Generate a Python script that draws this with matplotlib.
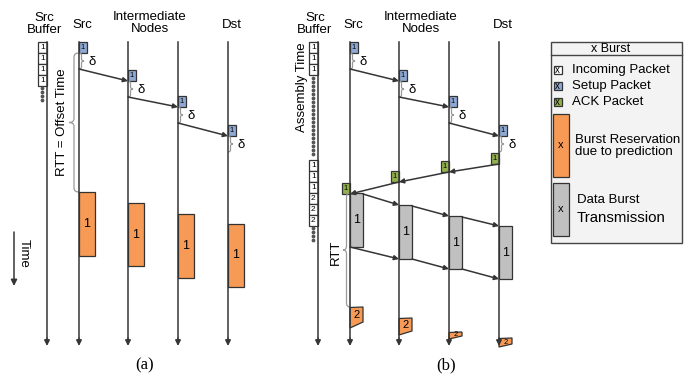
import numpy as np
import matplotlib.pyplot as plt
from matplotlib.path import Path
from matplotlib.patches import PathPatch, Rectangle, Polygon

plt.rcParams['font.family'] = ['Liberation Sans', 'DejaVu Sans']

# --- diagram data (pixel units, y = time going down) ---
node_labels = ['Src', 'Intermediate\nNodes', 'Dst']
node_x = [79, 128, 178, 228]          # node lines, panel (a)
panel_shift = 271                     # panel (b) offset
setup_top = [42, 70, 96, 125]         # setup packet arrival
delta = 16                            # processing delay
pkt_h = 11
burst_a_start = [192, 203, 214, 224]  # predicted reservation, panel (a)
burst_a_end = [256, 266, 278, 287]
ack_top = [183, 171, 161, 153]        # ACK packets, panel (b)
burst_b_start = [193, 205, 216, 226]  # data burst, panel (b)
burst_b_end = [247, 259, 269, 279]
pred2_top = [307, 318, 332, 338]      # next reservation (burst 2)
pred2_left = [21, 17, 7, 9]
pred2_right = [15, 13, 4, 6]
buf_a = ['1', '1', '1', '1']
buf_b_top = ['1', '1', '1']
buf_b_mid = ['1', '1', '1', '2', '2', '2']

C_LINE = '#353535'
C_SETUP = '#8fa9d4'
C_ACK = '#92b04c'
C_ORANGE = '#f79a55'
C_GREY = '#c0c0c0'
C_BRACE = '#9a9a9a'

fig = plt.figure(figsize=(6.95, 3.77), dpi=100)
ax = fig.add_axes([0, 0, 1, 1])
ax.set_xlim(0, 695)
ax.set_ylim(377, 0)
ax.axis('off')


def arrow(x0, y0, x1, y1, lw=1.1, ms=7):
    ax.annotate('', xy=(x1, y1), xytext=(x0, y0),
                arrowprops=dict(arrowstyle='-|>', color=C_LINE, lw=lw,
                                mutation_scale=ms, shrinkA=0, shrinkB=0))


def brace(x, y0, y1, w, r=3):
    ym = (y0 + y1) / 2
    xm = x + w / 2
    verts = [(x, y0), (xm, y0), (xm, y0 + r), (xm, ym - r), (xm, ym), (x + w, ym),
             (xm, ym), (xm, ym + r), (xm, y1 - r), (xm, y1), (x, y1)]
    codes = [Path.MOVETO, Path.CURVE3, Path.CURVE3, Path.LINETO, Path.CURVE3, Path.CURVE3,
             Path.CURVE3, Path.CURVE3, Path.LINETO, Path.CURVE3, Path.CURVE3]
    ax.add_patch(PathPatch(Path(verts, codes), fill=False, ec=C_BRACE, lw=0.9))


def box(x, y, w, h, fc, label='', fs=5.5, ec='#333333'):
    ax.add_patch(Rectangle((x, y), w, h, fc=fc, ec=ec, lw=0.9))
    if label:
        ax.text(x + w / 2, y + h / 2, label, fontsize=fs, ha='center', va='center')


def buffer(x, y0, labels, dots_y):
    for i, lab in enumerate(labels):
        box(x - 9.5, y0 + i * 11, 9.5, 11, 'white', lab, fs=6)
    ax.scatter([x - 5] * len(dots_y), dots_y, s=3, c='#555555', zorder=3)


def panel(off, mode):
    xs = [v + off for v in node_x]
    bx = off + 47
    # headers
    ax.text(bx - 3, 24, 'Src\nBuffer', ha='center', va='center', fontsize=9.5, linespacing=0.95)
    ax.text(xs[0] + 3, 25, node_labels[0], ha='center', va='center', fontsize=9.5)
    ax.text((xs[1] + xs[2]) / 2 - 3, 23, node_labels[1], ha='center', va='center',
            fontsize=9.5, linespacing=0.95)
    ax.text(xs[3] + 4, 25, node_labels[2], ha='center', va='center', fontsize=9.5)
    # time lines
    for x in [bx] + xs:
        ax.plot([x, x], [42, 338], color=C_LINE, lw=1.1)
        arrow(x, 338, x, 346, ms=8)
    # setup packets + delta
    for i, x in enumerate(xs):
        box(x, setup_top[i], 8, pkt_h, C_SETUP, '1')
        b = setup_top[i] + pkt_h
        brace(x, b, b + delta, 5, r=2)
        ax.text(x + 13, b + delta / 2 + 1, 'δ', fontsize=9.5, ha='center', va='center')
        if i < 3:
            arrow(x, b + delta, xs[i + 1], setup_top[i + 1] + pkt_h)
    if mode == 'a':
        buffer(bx, 42, buf_a, np.arange(88, 101, 4))
        for i, x in enumerate(xs):
            h = burst_a_end[i] - burst_a_start[i]
            box(x, burst_a_start[i], 16, h, C_ORANGE, '1', fs=9)
        brace(xs[0], setup_top[0] + pkt_h, burst_a_start[0], -10, r=4)
        ax.text(62, 122, 'RTT = Offset Time', rotation=90, fontsize=9.5, ha='center', va='center')
        arrow(14, 232, 14, 286, lw=1.1, ms=9)
        ax.text(24, 253, 'Time', rotation=-90, fontsize=9.5, ha='center', va='center')
    else:
        buffer(bx, 42, buf_b_top, np.arange(78, 158, 4))
        buffer(bx, 160, buf_b_mid, np.arange(228, 244, 4))
        ax.text(off + 31, 87, 'Assembly Time', rotation=90, fontsize=9.5, ha='center', va='center')
        for i, x in enumerate(xs):
            box(x - 8, ack_top[i], 8, pkt_h, C_ACK, '1')
            if i > 0:
                arrow(x, ack_top[i] + pkt_h, xs[i - 1], ack_top[i - 1] + pkt_h)
        for i, x in enumerate(xs):
            h = burst_b_end[i] - burst_b_start[i]
            box(x, burst_b_start[i], 13, h, C_GREY, '1', fs=9)
            if i < 3:
                arrow(x + 13, burst_b_start[i] + 1, xs[i + 1], burst_b_start[i + 1])
                x0 = x if i == 0 else x + 13
                arrow(x0, burst_b_end[i], xs[i + 1], burst_b_end[i + 1])
        for i, x in enumerate(xs):
            t = pred2_top[i]
            pts = [(x, t + 0.5), (x + 13, t), (x + 13, t + pred2_right[i]), (x, t + pred2_left[i])]
            ax.add_patch(Polygon(pts, closed=True, fc=C_ORANGE, ec='#333333', lw=0.9))
            fs = 8 if pred2_left[i] > 12 else 5.5
            ax.text(x + 6.5, t + pred2_right[i] / 2 + 1, '2', fontsize=fs, ha='center', va='center')
        brace(xs[0], burst_b_start[0], pred2_top[0], -7, r=4)
        ax.text(off + 65, 252, 'RTT', rotation=90, fontsize=9.5, ha='center', va='center')


panel(0, 'a')
panel(panel_shift, 'b')
ax.text(145, 365, '(a)', family='Liberation Serif', fontsize=12, ha='center', va='center')
ax.text(446, 365, '(b)', family='Liberation Serif', fontsize=12, ha='center', va='center')

# legend
ax.add_patch(Rectangle((551, 42), 131, 201, fc='#f3f3f3', ec='#444444', lw=1))
ax.plot([551, 682], [55, 55], color='#444444', lw=1)
ax.text(611, 49, 'x Burst', fontsize=9, ha='center', va='center')
leg_items = [('Incoming Packet', 'white', 70), ('Setup Packet', C_SETUP, 86), ('ACK Packet', C_ACK, 102)]
for lab, c, y in leg_items:
    box(554, y - 4, 7.5, 8, c, 'x', fs=7)
    ax.text(572, y, lab, fontsize=9.5, ha='left', va='center')
box(553, 114, 16, 63, C_ORANGE, 'x', fs=8)
ax.text(575, 146, 'Burst Reservation\ndue to prediction', fontsize=9.5, ha='left', va='center',
        linespacing=0.9)
box(553, 183, 16, 53, C_GREY, 'x', fs=8)
ax.text(577, 200, 'Data Burst', fontsize=9.5, ha='left', va='center')
ax.text(577, 218, 'Transmission', fontsize=10.8, ha='left', va='center')

fig.savefig('out.png', dpi=100)
